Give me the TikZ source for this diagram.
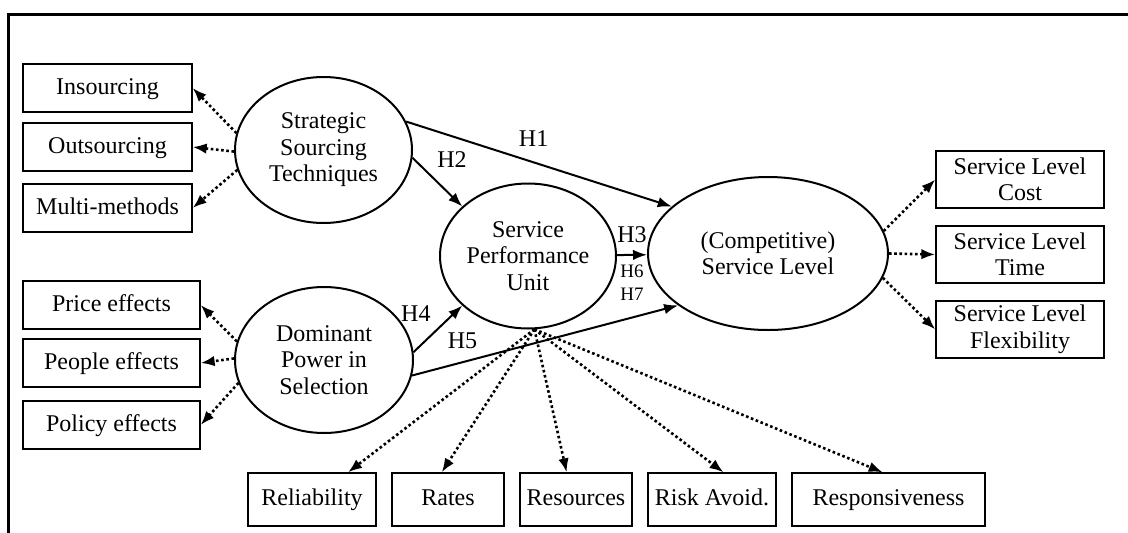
\documentclass[tikz,border=0pt]{standalone}
\usepackage{fontspec}
\setmainfont{Liberation Serif}
\usetikzlibrary{arrows.meta,shapes.geometric}

\begin{document}
\begin{tikzpicture}[x=1pt,y=-1pt,->,>={Latex[length=14pt,width=10.5pt]},line width=2pt,
		font=\fontsize{24}{26.5}\selectfont,
		latent/.style={ellipse,draw,line width=2pt,inner sep=0pt,align=center},
		item/.style={rectangle,draw,line width=1.3pt,inner sep=0pt,align=center,minimum height=48pt},
		oneline/.style={text height=17pt,text depth=5pt},
		meas/.style={line width=2.6pt,dash pattern=on 2.6pt off 2.6pt}]
		\useasboundingbox (0,0) rectangle (1128,533);
		\draw[-,line width=3pt] (1128,14) -- (8,14) -- (8,533);
		% constructs
		\node[latent,minimum width=177pt,minimum height=146pt] (sst) at (323.5,150) {Strategic\\Sourcing\\Techniques};
		\node[latent,minimum width=178pt,minimum height=146pt] (dps) at (324,360)   {Dominant\\Power in\\Selection};
		\node[latent,minimum width=176pt,minimum height=145pt] (spu) at (528,256)   {Service\\Performance\\Unit};
		\node[latent,minimum width=240pt,minimum height=153pt] (csl) at (768,253.5) {(Competitive)\\Service Level};
		% indicators
		\node[item,oneline,minimum width=169pt] (ins) at (107.5,88)  {Insourcing};
		\node[item,oneline,minimum width=169pt] (out) at (107.5,147) {Outsourcing};
		\node[item,oneline,minimum width=169pt] (mul) at (107.5,208) {Multi-methods};
		\node[item,oneline,minimum width=177pt] (pri) at (111.5,305) {Price effects};
		\node[item,oneline,minimum width=177pt] (peo) at (111.5,363) {People effects};
		\node[item,oneline,minimum width=177pt] (pol) at (111.5,425) {Policy effects};
		\node[item,minimum width=168pt,minimum height=57pt] (cst) at (1020,179.5) {Service Level\\Cost};
		\node[item,minimum width=168pt,minimum height=57pt] (tim) at (1020,254.5) {Service Level\\Time};
		\node[item,minimum width=168pt,minimum height=57pt] (flx) at (1020,329.5) {Service Level\\Flexibility};
		\node[item,oneline,minimum width=128pt,minimum height=53pt] (rel) at (312,499.5)   {Reliability};
		\node[item,oneline,minimum width=112pt,minimum height=53pt] (rat) at (448,499.5)   {Rates};
		\node[item,oneline,minimum width=112pt,minimum height=53pt] (res) at (576,499.5)   {Resources};
		\node[item,oneline,minimum width=128pt,minimum height=53pt] (rsk) at (712,499.5)   {Risk Avoid.};
		\node[item,oneline,minimum width=193pt,minimum height=53pt] (rsp) at (888.5,499.5) {Responsiveness};
		% measurement paths
		\path
			(sst.169)  edge [meas] (ins.east)
			(sst.181)  edge [meas] (out.east)
			(sst.193)  edge [meas] (mul.east)
			(dps.168)  edge [meas] (pri.east)
			(dps.179)  edge [meas] (peo.east)
			(dps.195)  edge [meas] (pol.east)
			(csl.11)   edge [meas] (cst.west)
			(csl.east) edge [meas] (tim.west)
			(csl.-12)  edge [meas] (flx.west)
			(spu.-85)  edge [meas] (rel.37)
			(spu.-85)  edge [meas] (rat.103)
			(spu.-85)  edge [meas] (res.109)
			(spu.-85)  edge [meas] (rsk.67)
			(spu.-85)  edge [meas] (rsp.102);
		% hypotheses
		\path
			(sst.19)  edge node [pos=0.48,above=12pt]        {H1} (csl.154)
			(sst.-5)  edge node [pos=0.35,above right=3pt]   {H2} (spu.143)
			(spu)     edge node [above=8pt]                  {H3}
			               node [below=6pt,align=center,font=\fontsize{19}{23}\selectfont] {H6\\H7} (csl)
			(dps.5)   edge node [pos=0.5,above left=3pt]     {H4} (spu.217)
			(dps.-10) edge node [pos=0.19,above=9pt]         {H5} (csl.210);
	\end{tikzpicture}
\end{document}
